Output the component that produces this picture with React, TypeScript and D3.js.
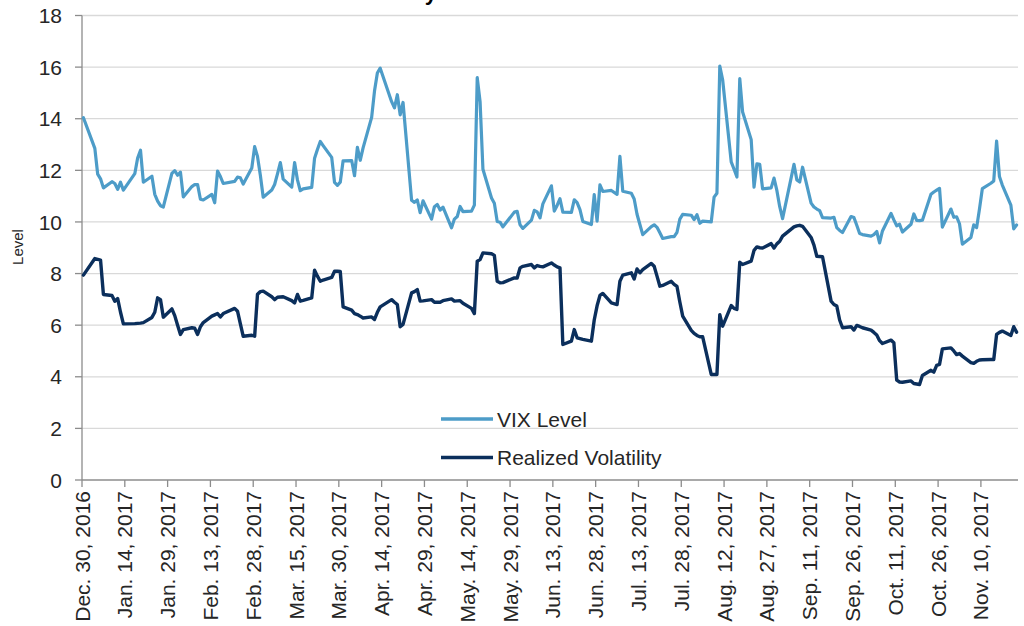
import React from "react";
import * as d3 from "d3";

// Trading days per month: [year, month(1-12), days]
const tradingDays: [number, number, number[]][] = [
  [2016, 12, [30]],
  [2017, 1, [3, 4, 5, 6, 9, 10, 11, 12, 13, 17, 18, 19, 20, 23, 24, 25, 26, 27, 30, 31]],
  [2017, 2, [1, 2, 3, 6, 7, 8, 9, 10, 13, 14, 15, 16, 17, 21, 22, 23, 24, 27, 28]],
  [2017, 3, [1, 2, 3, 6, 7, 8, 9, 10, 13, 14, 15, 16, 17, 20, 21, 22, 23, 24, 27, 28, 29, 30, 31]],
  [2017, 4, [3, 4, 5, 6, 7, 10, 11, 12, 13, 17, 18, 19, 20, 21, 24, 25, 26, 27, 28]],
  [2017, 5, [1, 2, 3, 4, 5, 8, 9, 10, 11, 12, 15, 16, 17, 18, 19, 22, 23, 24, 25, 26, 30, 31]],
  [2017, 6, [1, 2, 5, 6, 7, 8, 9, 12, 13, 14, 15, 16, 19, 20, 21, 22, 23, 26, 27, 28, 29, 30]],
  [2017, 7, [3, 5, 6, 7, 10, 11, 12, 13, 14, 17, 18, 19, 20, 21, 24, 25, 26, 27, 28, 31]],
  [2017, 8, [1, 2, 3, 4, 7, 8, 9, 10, 11, 14, 15, 16, 17, 18, 21, 22, 23, 24, 25, 28, 29, 30, 31]],
  [2017, 9, [1, 5, 6, 7, 8, 11, 12, 13, 14, 15, 18, 19, 20, 21, 22, 25, 26, 27, 28, 29]],
  [2017, 10, [2, 3, 4, 5, 6, 9, 10, 11, 12, 13, 16, 17, 18, 19, 20, 23, 24, 25, 26, 27, 30, 31]],
  [2017, 11, [1, 2, 3, 6, 7, 8, 9, 10, 13, 14, 15, 16, 17, 20, 21, 22]],
];

const vixLevel: number[] = [
  14.04,
  12.85, 11.85, 11.67, 11.32, 11.56, 11.49, 11.26, 11.54, 11.23, 11.87, 12.48, 12.78, 11.54, 11.77, 11.07, 10.81, 10.63, 10.58, 11.88, 11.99,
  11.81, 11.93, 10.97, 11.37, 11.45, 11.45, 10.88, 10.85, 11.07, 10.74, 11.97, 11.76, 11.49, 11.57, 11.74, 11.71, 11.47, 12.09, 12.92,
  12.54, 11.81, 10.96, 11.24, 11.45, 11.86, 12.3, 11.66, 11.35, 12.3, 11.63, 11.21, 11.28, 11.34, 12.47, 12.81, 13.12, 12.96, 12.5, 11.53, 11.42, 11.54, 12.37,
  12.38, 11.79, 12.89, 12.39, 12.87, 14.05, 15.07, 15.77, 15.96, 14.66, 14.42, 14.93, 14.15, 14.63, 10.84, 10.76, 10.85, 10.36, 10.82,
  10.11, 10.59, 10.68, 10.46, 10.57, 9.77, 10.11, 10.21, 10.6, 10.4, 10.42, 10.65, 15.59, 14.66, 12.04, 10.93, 10.72, 10.02, 9.99, 9.81, 10.38, 10.41,
  9.89, 9.75, 10.07, 10.45, 10.39, 10.16, 10.7, 11.4, 10.42, 10.64, 10.9, 10.38, 10.37, 10.86, 10.75, 10.48, 10.02, 9.9, 11.06, 10.03, 11.44, 11.18,
  11.22, 11.07, 12.54, 11.19, 11.11, 10.89, 10.3, 9.9, 9.51, 9.82, 9.89, 9.79, 9.58, 9.36, 9.43, 9.43, 9.6, 10.11, 10.29, 10.26,
  10.09, 10.28, 9.95, 10.03, 10.0, 10.96, 11.11, 16.04, 15.51, 12.33, 12.04, 11.74, 15.55, 14.26, 13.19, 11.35, 12.25, 12.23, 11.28, 11.32, 11.7, 11.22, 10.59,
  10.13, 12.23, 11.63, 11.55, 12.12, 10.73, 10.58, 10.5, 10.44, 10.17, 10.15, 10.18, 9.78, 9.67, 9.59, 10.21, 10.17, 9.87, 9.55, 9.51,
  9.45, 9.51, 9.63, 9.19, 9.65, 10.33, 10.08, 9.85, 9.91, 9.61, 9.91, 10.31, 10.06, 10.05, 10.07, 11.07, 11.16, 11.23, 11.3, 9.8, 10.5, 10.18,
  10.2, 9.93, 9.14, 9.4, 9.89, 9.78, 10.5, 11.29, 11.5, 11.59, 13.13, 11.76, 11.43, 10.65, 9.73, 9.88,
];

const realizedVol: number[] = [
  7.94,
  8.58, 8.55, 8.52, 7.19, 7.15, 6.93, 7.03, 6.5, 6.05, 6.06, 6.07, 6.08, 6.1, 6.3, 6.5, 7.06, 6.99, 6.31, 6.63, 6.37,
  6.0, 5.64, 5.83, 5.9, 5.88, 5.64, 5.94, 6.1, 6.35, 6.4, 6.45, 6.32, 6.45, 6.65, 6.54, 6.05, 5.57, 5.61, 5.57,
  7.2, 7.3, 7.32, 7.1, 6.99, 7.08, 7.09, 7.1, 6.95, 6.86, 7.19, 6.93, 6.96, 7.06, 8.13, 7.9, 7.7, 7.75, 7.85, 8.09, 8.09, 8.08, 6.71,
  6.58, 6.45, 6.41, 6.35, 6.28, 6.32, 6.22, 6.5, 6.71, 6.99, 6.89, 6.8, 5.94, 6.03, 7.25, 7.3, 7.38, 6.93, 6.94,
  6.99, 6.89, 6.89, 6.89, 6.95, 7.02, 6.93, 6.94, 6.95, 6.85, 6.65, 6.45, 8.48, 8.54, 8.8, 8.77, 8.7, 7.7, 7.64, 7.65, 7.83, 7.83,
  8.22, 8.28, 8.35, 8.22, 8.31, 8.28, 8.26, 8.41, 8.33, 8.26, 8.22, 5.25, 5.38, 5.83, 5.51, 5.48, 5.45, 5.38, 6.2, 6.75, 7.15, 7.23,
  6.86, 6.8, 7.7, 7.94, 8.03, 7.79, 8.18, 8.03, 8.15, 8.39, 8.28, 7.9, 7.51, 7.54, 7.7, 7.58, 7.5, 6.9, 6.35, 5.8,
  5.68, 5.6, 5.55, 5.55, 4.09, 4.09, 4.09, 6.41, 5.96, 6.76, 6.65, 6.61, 8.44, 8.35, 8.48, 8.9, 9.03, 9.0, 8.99, 9.16, 8.99, 9.15, 9.25,
  9.45, 9.81, 9.85, 9.87, 9.83, 9.4, 9.1, 8.67, 8.66, 8.65, 6.93, 6.8, 6.74, 6.2, 5.9, 5.94, 5.81, 5.99, 5.95, 5.9,
  5.81, 5.72, 5.62, 5.4, 5.29, 5.42, 5.32, 3.87, 3.8, 3.79, 3.84, 3.74, 3.72, 3.7, 4.05, 4.25, 4.18, 4.44, 4.48, 5.08, 5.12, 5.0,
  4.86, 4.9, 4.8, 4.55, 4.52, 4.6, 4.65, 4.66, 4.67, 4.67, 5.64, 5.72, 5.77, 5.6, 5.94, 5.73,
];

const yTicks: number[] = [0, 2, 4, 6, 8, 10, 12, 14, 16, 18];
const seriesNames: string[] = ["VIX Level", "Realized Volatility"];
const seriesColors: string[] = ["#4d9cc8", "#0b2f5c"];
const titleText = "VIX Level vs. Realized Volatility";
const yAxisTitle = "Level";

const FONT = "'Liberation Sans', Arial, sans-serif";

export default function App() {
  const dates: Date[] = [];
  tradingDays.forEach(([y, m, days]) => days.forEach((d) => dates.push(new Date(y, m - 1, d, 12))));

  const x0 = 82;
  const x1 = 1018;
  const xScale = d3
    .scaleTime()
    .domain([new Date(2016, 11, 30), new Date(2017, 10, 23)])
    .range([x0, x1]);
  const yScale = d3.scaleLinear().domain([0, 18]).range([480, 15.5]);

  const tickDates = d3.timeDay.range(new Date(2016, 11, 30), new Date(2017, 10, 15), 15);
  const fmt = d3.timeFormat("%b. %d, %Y");

  const line = d3
    .line<[Date, number]>()
    .x((d) => xScale(d[0]))
    .y((d) => yScale(d[1]));

  const n = Math.min(dates.length, vixLevel.length, realizedVol.length);
  const vixPts: [Date, number][] = [];
  const rvPts: [Date, number][] = [];
  for (let i = 0; i < n; i++) {
    vixPts.push([dates[i], vixLevel[i]]);
    rvPts.push([dates[i], realizedVol[i]]);
  }

  const axisColor = "#8c8c8c";
  const gridColor = "#d9d9d9";
  const textColor = "#262626";

  return (
    <svg
      width={1024}
      height={626}
      style={{ position: "absolute", left: 0, top: 0, background: "#fff" }}
      fontFamily={FONT}
    >
      <rect x={0} y={0} width={1024} height={626} fill="#fff" />
      {/* title: in the reference it sits above the frame, only a descender shows */}
      <text x={437} y={-0.5} textAnchor="end" fontSize={22} fontWeight="bold" fill="#000">
        {titleText}
      </text>

      {/* gridlines */}
      {yTicks.map((t) =>
        t === 0 ? null : (
          <line key={"g" + t} x1={x0} x2={x1} y1={yScale(t)} y2={yScale(t)} stroke={gridColor} strokeWidth={1.3} />
        )
      )}

      {/* y axis */}
      <line x1={x0} x2={x0} y1={yScale(18)} y2={yScale(0)} stroke={axisColor} strokeWidth={1.3} />
      {yTicks.map((t) => (
        <g key={"y" + t}>
          <line x1={x0 - 7} x2={x0} y1={yScale(t)} y2={yScale(t)} stroke={axisColor} strokeWidth={1.3} />
          <text x={62} y={yScale(t)} dy="0.36em" textAnchor="end" fontSize={21} fill={textColor}>
            {t}
          </text>
        </g>
      ))}
      <text
        transform={`translate(${23},${247}) rotate(-90)`}
        textAnchor="middle"
        fontSize={15}
        fill={textColor}
      >
        {yAxisTitle}
      </text>

      {/* x axis */}
      <line x1={x0} x2={x1} y1={yScale(0)} y2={yScale(0)} stroke={axisColor} strokeWidth={1.3} />
      {tickDates.map((d, i) => {
        const x = xScale(d);
        return (
          <g key={"x" + i}>
            <line x1={x} x2={x} y1={yScale(0)} y2={yScale(0) + 7} stroke={axisColor} strokeWidth={1.3} />
            <text
              transform={`translate(${x},${491}) rotate(-90)`}
              dy="0.36em"
              textAnchor="end"
              fontSize={21}
              fill={textColor}
            >
              {fmt(d)}
            </text>
          </g>
        );
      })}

      {/* series */}
      <path d={line(vixPts) || ""} fill="none" stroke={seriesColors[0]} strokeWidth={3.2} strokeLinejoin="round" strokeLinecap="round" />
      <path d={line(rvPts) || ""} fill="none" stroke={seriesColors[1]} strokeWidth={3.4} strokeLinejoin="round" strokeLinecap="round" />

      {/* legend */}
      {seriesNames.map((name, i) => {
        const ly = 419 + i * 38.5;
        return (
          <g key={name}>
            <line x1={441} x2={493} y1={ly} y2={ly} stroke={seriesColors[i]} strokeWidth={3.6} />
            <text x={497} y={ly} dy="0.36em" fontSize={21} fill={textColor}>
              {name}
            </text>
          </g>
        );
      })}
    </svg>
  );
}
